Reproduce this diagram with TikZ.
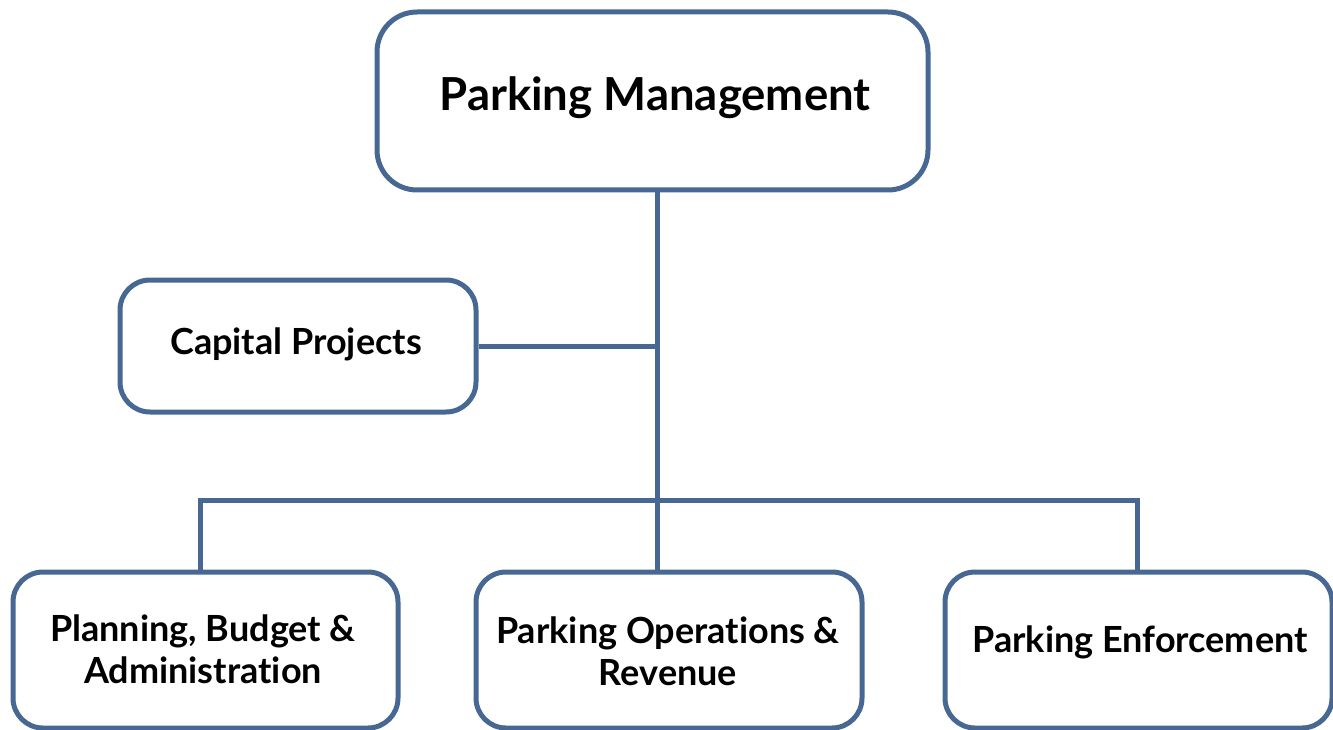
\documentclass[tikz,border=0pt]{standalone}
\usepackage{fontspec}
\setmainfont{Lato}[BoldFont={Lato Bold}, Ligatures={NoCommon}]
\definecolor{boxblue}{RGB}{72,104,148}
\begin{document}
\begin{tikzpicture}[x=1pt,y=-1pt,
  box/.style={draw=boxblue, line width=5pt, rounded corners=30pt, fill=white, inner sep=0pt},
  label/.style={align=center, inner sep=0pt, font=\bfseries\fontsize{36}{42}\selectfont},
  link/.style={draw=boxblue, line width=5pt}]
\useasboundingbox (0,0) rectangle (1333,730);
\node[box, minimum width=551pt, minimum height=178pt, rounded corners=40pt] (top) at (652.5,101) {};
\node[label, font=\bfseries\fontsize{45.5}{50}\selectfont] (topt) at (655,98) {Parking Management};
\node[box, minimum width=356pt, minimum height=132pt] (cap) at (298,346) {};
\node[label] (capt) at (296,344) {Capital Projects};
\node[box, minimum width=385pt, minimum height=156pt] (pba) at (205.5,650) {};
\node[label] (pbat) at (203,649) {Planning, Budget \&\\Administration};
\node[box, minimum width=386pt, minimum height=156pt] (por) at (669,650) {};
\node[label] (port) at (668,651) {Parking Operations \&\\Revenue};
\node[box, minimum width=387pt, minimum height=156pt] (pe) at (1138.5,650) {};
\node[label] (pet) at (1140,642) {Parking Enforcement};
\coordinate (j1) at (657,347);
\coordinate (j2) at (657,500);
\draw[link] (top.south -| j1) -- (j2) -- (por.north -| j2);
\draw[link] (cap.east) -- (cap.east -| j1);
\draw[link] (pba.north -| 200,0) |- (j2) -| (pe.north -| 1137,0);
\end{tikzpicture}
\end{document}
